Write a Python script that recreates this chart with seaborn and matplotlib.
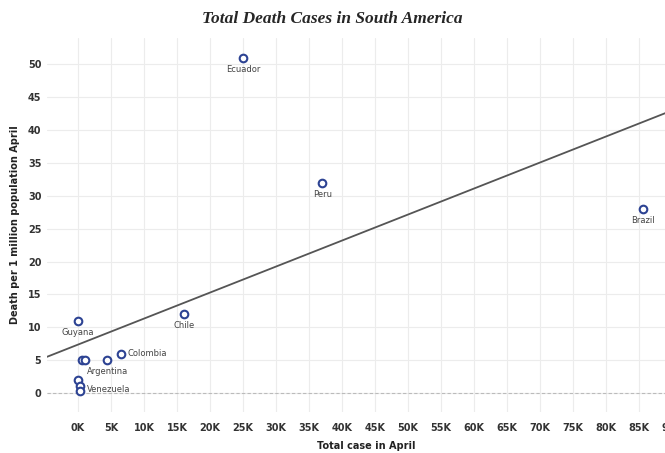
import numpy as np
import pandas as pd
import matplotlib
matplotlib.use("Agg")
import matplotlib.pyplot as plt
import seaborn as sns
from matplotlib.ticker import FuncFormatter, MultipleLocator

countries = ["Ecuador", "Peru", "Brazil", "Chile", "Guyana", "Colombia",
             "Argentina", "Bolivia", "Paraguay", "Uruguay", "Suriname", "Venezuela"]
cases = [25000, 37000, 85600, 16000, 0, 6500, 4400, 600, 1100, 0, 300, 300]
deaths = [51, 32, 28, 12, 11, 6, 5, 5, 5, 2, 1, 0.3]
shown = ["Ecuador", "Peru", "Brazil", "Chile", "Guyana", "Colombia", "Argentina", "Venezuela"]

df = pd.DataFrame({"country": countries, "cases": cases, "deaths": deaths})

sns.set_theme(style="whitegrid")
plt.rcParams["font.family"] = ["DejaVu Sans"]

fig = plt.figure(figsize=(6.65, 4.53), dpi=100)
ax = fig.add_axes([0.0707, 0.0905, 0.96, 0.8255])
ax.set_xlim(-4700, 92000)
ax.set_ylim(-2.9, 54)

sns.regplot(data=df, x="cases", y="deaths", ax=ax, ci=None, truncate=False,
            scatter=False, line_kws={"color": "#555555", "lw": 1.3})
sns.scatterplot(data=df, x="cases", y="deaths", ax=ax, s=30, marker="o",
                facecolor="white", edgecolor="#2d4393", linewidth=1.5, zorder=3)

ax.axhline(0, color="#bbbbbb", lw=0.8, ls=(0, (3, 2)), zorder=1)

for c, x, y in zip(countries, cases, deaths):
    if c not in shown:
        continue
    if c == "Colombia":
        ax.annotate(c, (x, y), xytext=(5, 0), textcoords="offset points",
                    ha="left", va="center", fontsize=6, color="#444444")
    elif c == "Venezuela":
        ax.annotate(c, (x, y), xytext=(5, 1), textcoords="offset points",
                    ha="left", va="center", fontsize=6, color="#444444")
    else:
        ax.annotate(c, (x, y), xytext=(0, -5), textcoords="offset points",
                    ha="center", va="top", fontsize=6, color="#444444")

ax.xaxis.set_major_locator(MultipleLocator(5000))
ax.yaxis.set_major_locator(MultipleLocator(5))
ax.xaxis.set_major_formatter(FuncFormatter(lambda v, p: f"{int(v/1000)}K"))
ax.tick_params(axis="x", labelsize=7, colors="#333333", pad=2)
ax.tick_params(axis="y", labelsize=7, colors="#333333", pad=-2)
for lab in ax.get_xticklabels() + ax.get_yticklabels():
    lab.set_fontweight("bold")
ax.grid(True, color="#ececec", lw=0.8)
for s in ax.spines.values():
    s.set_visible(False)

ax.set_xlabel("Total case in April", fontsize=7, fontweight="bold", color="#222222", labelpad=6)
ax.set_ylabel("Death per 1 million population April", fontsize=7, fontweight="bold",
              color="#222222", labelpad=6)
fig.text(0.5, 0.958, "Total Death Cases in South America", ha="center", va="center",
         fontsize=12.5, fontweight="bold", fontstyle="italic", family=["Liberation Serif"])

fig.savefig("out.png", dpi=100)
